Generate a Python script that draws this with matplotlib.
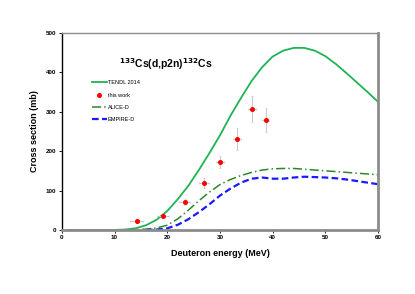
import numpy as np
import matplotlib
matplotlib.use('Agg')
import matplotlib.pyplot as plt
from matplotlib.lines import Line2D

plt.rcParams['font.family'] = ['Liberation Sans', 'DejaVu Sans']

# measured points
e_exp = [14.2, 19.2, 23.3, 27.0, 30.0, 33.2, 36.1, 38.7]
xs_exp = [23, 35, 71, 119, 172, 231, 307, 279]
xs_err = [5, 6, 8, 12, 15, 27, 33, 30]
e_err = [1.2, 1.1, 1.0, 0.9, 0.8, 0.8, 0.7, 0.7]

# TENDL 2014
e_tendl = [1, 10, 12, 14, 16, 18, 20, 22, 24, 26, 28, 30, 32, 34, 36, 38, 40,
           42, 44, 46, 48, 50, 52, 54, 56, 58, 60]
xs_tendl = [0, 0, 1, 4, 12, 26, 48, 78, 112, 152, 195, 240, 290, 335, 378, 413,
            440, 455, 462, 462, 455, 441, 421, 398, 374, 350, 325]

# ALICE-D
e_alice = [12, 14, 16, 18, 20, 22, 24, 26, 28, 30, 32, 34, 36, 38, 40, 42, 44,
           46, 48, 50, 52, 54, 56, 58, 60]
xs_alice = [0, 0.5, 2, 5, 12, 28, 50, 74, 96, 115, 128, 138, 146, 152, 155, 156,
            156, 154, 152, 150, 148, 146, 144, 142, 140]

# EMPIRE-D
e_empire = [16, 18, 20, 22, 24, 26, 28, 30, 32, 34, 36, 38, 40, 42, 44, 46, 48,
            50, 52, 54, 56, 58, 60]
xs_empire = [0, 1, 4, 13, 27, 45, 65, 87, 105, 120, 130, 133, 130, 130, 133, 135,
             134, 133, 131, 128, 124, 120, 116]

fig = plt.figure(figsize=(4.15, 2.94), dpi=100)
ax = fig.add_axes([0.149, 0.218, 0.762, 0.670])

l_tendl, = ax.plot(e_tendl, xs_tendl, color='#1fb355', lw=1.3)
ax.errorbar(e_exp, xs_exp, yerr=xs_err, xerr=e_err, fmt='o', color='red',
            ms=2.6, ecolor='#c8c8c8', elinewidth=0.7, capsize=1, capthick=0.5)
l_alice, = ax.plot(e_alice, xs_alice, color='#2a8a2a', lw=1.1,
                   ls=(0, (6, 2, 1, 2)))
l_empire, = ax.plot(e_empire, xs_empire, color='#1a1aff', lw=1.6,
                    ls=(0, (3, 1.5)))
h_exp = Line2D([], [], ls='none', marker='o', color='red', ms=2.6)

ax.set_xlim(0, 60)
ax.set_ylim(0, 500)
ax.set_xticks([0, 10, 20, 30, 40, 50, 60])
ax.set_yticks([0, 100, 200, 300, 400, 500])
ax.tick_params(labelsize=4.5, length=2, width=0.6, pad=2)
for lab in ax.get_xticklabels() + ax.get_yticklabels():
    lab.set_fontweight('bold')

ax.set_xlabel('Deuteron energy (MeV)', fontsize=6.5, fontweight='bold', labelpad=6)
ax.set_ylabel('Cross section (mb)', fontsize=6.5, fontweight='bold', labelpad=5)

ax.spines['left'].set_color('black')
ax.spines['left'].set_linewidth(1.0)
ax.spines['bottom'].set_color('#8c8c8c')
ax.spines['bottom'].set_linewidth(2.0)
ax.spines['right'].set_color('#8c8c8c')
ax.spines['right'].set_linewidth(2.0)
ax.spines['top'].set_color('#8c8c8c')
ax.spines['top'].set_linewidth(1.0)

ax.text(0.33, 0.84, r'$^{\mathbf{133}}$Cs(d,p2n)$^{\mathbf{132}}$Cs',
        transform=ax.transAxes, ha='center', va='center', fontsize=7.5,
        fontweight='bold')

ax.legend([l_tendl, h_exp, l_alice, l_empire],
          ['TENDL 2014', 'this work', 'ALICE-D', 'EMPIRE-D'],
          loc='upper left', bbox_to_anchor=(0.08, 0.785), frameon=False,
          fontsize=4, handlelength=2.6, handletextpad=0.2, labelspacing=1.3)

fig.savefig('out.png', dpi=100)
